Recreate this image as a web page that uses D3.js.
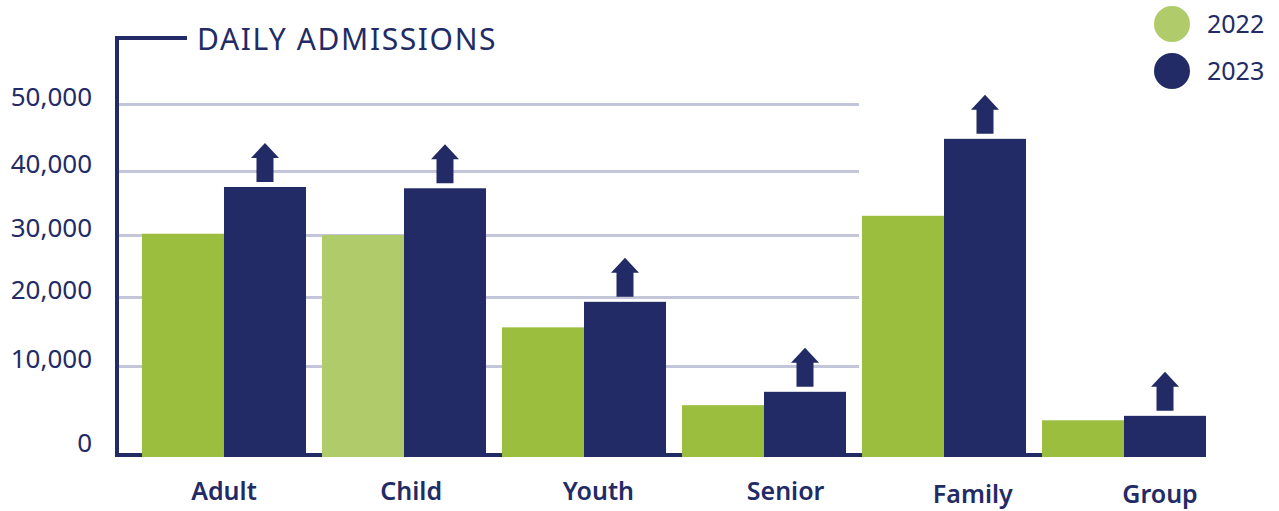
<!DOCTYPE html>
<html>
<head>
<meta charset="utf-8">
<script src="https://cdn.jsdelivr.net/npm/d3@7"></script>
<style>
  body { margin: 0; background: #fff; }
  text { font-family: "Noto Sans", sans-serif; fill: #222b65; }
</style>
</head>
<body>
<div id="chart"></div>
<script>
// data
var categories = ["Adult", "Child", "Youth", "Senior", "Family", "Group"];
var series = ["2022", "2023"];
var values2022 = [30200, 30000, 15600, 5600, 33000, 3900];
var values2023 = [37500, 37300, 19300, 7100, 44800, 4400];
var yTicks = [0, 10000, 20000, 30000, 40000, 50000];
var title = "DAILY ADMISSIONS";

var width = 1279, height = 511;
var navy = "#222b65", green = "#9bbe3f", lightGreen = "#b0cb69", grid = "#c3c5d8";

var data = categories.map(function(c, i) {
  return { cat: c, v2022: values2022[i], v2023: values2023[i] };
});

var svg = d3.select("#chart").append("svg")
  .attr("width", width)
  .attr("height", height);

// the grid rows in the original are not evenly spaced, so the scale is piecewise
var yScale = d3.scaleLinear()
  .domain(yTicks)
  .range([455, 366, 297, 235, 171, 104]);

var xScale = d3.scaleBand()
  .domain(categories)
  .range([142, 1206])
  .paddingInner(0.089)
  .paddingOuter(0);

var xSub = d3.scaleBand()
  .domain(series)
  .range([0, xScale.bandwidth()]);

// category labels drift a bit to the right of the bar groups
var xLabel = d3.scalePoint()
  .domain(categories)
  .range([224, 1160]);

var axisX = 117;

// y axis: labels + grid lines
var yAxis = svg.append("g")
  .attr("class", "y axis")
  .attr("transform", "translate(" + axisX + ",0)")
  .call(d3.axisLeft(yScale)
    .tickValues(yTicks)
    .tickSize(-(859 - axisX))
    .tickPadding(25)
    .tickFormat(d3.format(",")));

yAxis.select(".domain").remove();
yAxis.selectAll(".tick line")
  .attr("stroke", grid)
  .attr("stroke-width", 3);
yAxis.selectAll(".tick text")
  .attr("dy", function(d) { return d === 0 ? "-0.15em" : "0.05em"; })
  .style("font-size", "26px")
  .style("fill", navy);

// frame: left line, top stub, baseline
svg.append("path")
  .attr("d", "M187," + 38 + "H" + axisX + "V" + yScale(0))
  .attr("fill", "none")
  .attr("stroke", navy)
  .attr("stroke-width", 4);

svg.append("line")
  .attr("x1", axisX - 2)
  .attr("x2", xScale.range()[1])
  .attr("y1", yScale(0))
  .attr("y2", yScale(0))
  .attr("stroke", navy)
  .attr("stroke-width", 4);

svg.append("text")
  .attr("x", 197)
  .attr("y", 50)
  .style("font-size", "30px")
  .style("letter-spacing", "1.6px")
  .text(title);

// bars
var groups = svg.selectAll(".group")
  .data(data)
  .enter().append("g")
  .attr("class", "group")
  .attr("transform", function(d) { return "translate(" + xScale(d.cat) + ",0)"; });

groups.append("rect")
  .attr("x", xSub("2022"))
  .attr("y", function(d) { return yScale(d.v2022); })
  .attr("width", xSub.bandwidth())
  .attr("height", function(d) { return yScale(0) + 2 - yScale(d.v2022); })
  .attr("fill", function(d) { return d.cat === "Child" ? lightGreen : green; });

groups.append("rect")
  .attr("x", xSub("2023"))
  .attr("y", function(d) { return yScale(d.v2023); })
  .attr("width", xSub.bandwidth())
  .attr("height", function(d) { return yScale(0) + 2 - yScale(d.v2023); })
  .attr("fill", navy);

// up arrows above the 2023 bars
var arrow = "M0,-39 L14,-24 L8.5,-24 L8.5,0 L-8.5,0 L-8.5,-24 L-14,-24 Z";
groups.append("path")
  .attr("d", arrow)
  .attr("fill", navy)
  .attr("transform", function(d) {
    return "translate(" + (xSub("2023") + xSub.bandwidth() / 2) + "," + (yScale(d.v2023) - 5) + ")";
  });

// category labels
svg.selectAll(".xlabel")
  .data(categories)
  .enter().append("text")
  .attr("class", "xlabel")
  .attr("x", function(d) { return xLabel(d); })
  .attr("y", function(d, i) { return i >= 4 ? 503 : 500; })
  .attr("text-anchor", "middle")
  .style("font-size", "25px")
  .style("font-weight", 600)
  .text(function(d) { return d; });

// legend
var legend = svg.selectAll(".legend")
  .data(series)
  .enter().append("g")
  .attr("class", "legend")
  .attr("transform", function(d, i) { return "translate(1172," + (24 + i * 47) + ")"; });

legend.append("circle")
  .attr("r", 18)
  .attr("fill", function(d) { return d === "2022" ? lightGreen : navy; });

legend.append("text")
  .attr("x", 35)
  .attr("dy", "0.36em")
  .style("font-size", "25px")
  .text(function(d) { return d; });
</script>
</body>
</html>
